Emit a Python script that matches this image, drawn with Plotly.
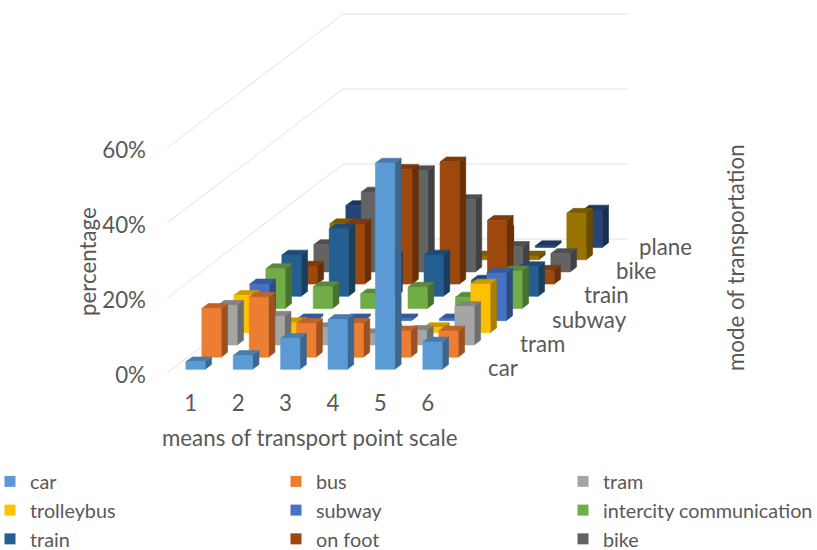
import plotly.graph_objects as go

# Point scale on the floor axis
points = ["1", "2", "3", "4", "5", "6"]

# Share of respondents (%) for each mode at each scale point
car = [2.0, 3.7, 8.3, 13.3, 55.0, 7.3]
bus = [13.0, 16.0, 9.0, 9.0, 7.0, 7.0]
tram = [10.6, 7.7, 4.6, 3.0, 3.9, 10.3]
trolleybus = [10.0, 2.7, 1.0, 1.0, 1.4, 13.0]
subway = [9.8, 0.5, 0.5, 0.5, 0.5, 12.7]
intercity = [10.6, 5.8, 3.9, 5.7, 3.0, 10.0]
train = [11.0, 18.0, 10.5, 11.0, 4.3, 7.9]
on_foot = [4.8, 16.0, 30.6, 32.6, 17.0, 3.7]
bike = [7.3, 21.3, 27.0, 19.3, 6.8, 4.9]
other = [9.6, 1.0, 1.0, 1.0, 1.0, 12.4]
plane = [11.2, 0.5, 0.5, 4.5, 0.5, 10.0]

series_names = ["car", "bus", "tram", "trolleybus", "subway", "intercity communication",
                "train", "on foot", "bike", "other", "plane"]
series_values = [car, bus, tram, trolleybus, subway, intercity, train, on_foot, bike, other, plane]
series_colors = ["#5B9BD5", "#ED7D31", "#A5A5A5", "#FFC000", "#4472C4", "#70AD47",
                 "#255E91", "#9E480E", "#636363", "#997300", "#264478"]

value_ticks = [0, 20, 40, 60]
depth_ticks = {"car": 0, "tram": 2, "subway": 4, "train": 6, "bike": 8, "plane": 10}

TEXT = "#595959"
FONT = "Lato, Carlito, Calibri, sans-serif"
GRID = "#E2E2E2"
AXIS_SIZE = 22.3

# Oblique projection: one depth slot shifts right (category units) and up (percent units)
PLOT_L, PLOT_W, PLOT_H = 167, 473, 388
PX_PER_CAT = 47.4
PX_PER_PCT = 3.75
SLOT_X = 16.0 / PX_PER_CAT
SLOT_Y = 12.18 / PX_PER_PCT
BAR_W = 0.407
BAR_GAP = (1 - BAR_W) / 2
BAR_D = 0.4
DEPTH_GAP = (1 - BAR_D) / 2
N = len(series_names)


def project(cat, depth, value):
    return cat + depth * SLOT_X, value + depth * SLOT_Y


def shade(hex_color, k):
    r, g, b = (int(hex_color[i:i + 2], 16) for i in (1, 3, 5))
    return f"rgb({r * k:.0f},{g * k:.0f},{b * k:.0f})"


def paper_x(px):
    return (px - PLOT_L) / PLOT_W


def paper_y(px):
    return (PLOT_H - px) / PLOT_H


def polygon_trace(polys, color, group, legend):
    xs, ys = [], []
    for poly in polys:
        xs += [p[0] for p in poly] + [poly[0][0], None]
        ys += [p[1] for p in poly] + [poly[0][1], None]
    return go.Scatter(x=xs, y=ys, mode="lines", fill="toself", fillcolor=color,
                      line=dict(color=color, width=0.6), hoverinfo="skip",
                      showlegend=False, legendgroup=group, legend=legend)


fig = go.Figure()

# Side-wall and back-wall gridlines
for v in value_ticks:
    corner = project(0, N, v)
    end = project(len(points), N, v)
    start = project(0, 0, v)
    fig.add_trace(go.Scatter(x=[start[0], corner[0], end[0]], y=[start[1], corner[1], end[1]],
                             mode="lines", line=dict(color=GRID, width=1),
                             hoverinfo="skip", showlegend=False))

# Bars, painted from the back row forward
legend_ids = ["legend", "legend2", "legend3"]
for s in range(N - 1, -1, -1):
    name, values, color = series_names[s], series_values[s], series_colors[s]
    legend = legend_ids[s % 3] if s < 9 else "legend"
    d0, d1 = s + DEPTH_GAP, s + DEPTH_GAP + BAR_D
    fronts, tops, sides = [], [], []
    for c, v in enumerate(values):
        x0, x1 = c + BAR_GAP, c + BAR_GAP + BAR_W
        fronts.append([project(x0, d0, 0), project(x1, d0, 0), project(x1, d0, v), project(x0, d0, v)])
        tops.append([project(x0, d0, v), project(x1, d0, v), project(x1, d1, v), project(x0, d1, v)])
        sides.append([project(x1, d0, 0), project(x1, d1, 0), project(x1, d1, v), project(x1, d0, v)])
    fig.add_trace(polygon_trace(sides, shade(color, 0.66), name, legend))
    fig.add_trace(polygon_trace(tops, shade(color, 0.80), name, legend))
    fig.add_trace(polygon_trace(fronts, color, name, legend))

# Legend swatches, three columns of three rows
for s in range(9):
    fig.add_trace(go.Scatter(x=[None], y=[None], mode="markers", name=series_names[s],
                             marker=dict(symbol="square", size=11, color=series_colors[s]),
                             legendgroup=series_names[s], legend=legend_ids[s % 3]))

legend_style = dict(orientation="v", xref="paper", yref="paper", yanchor="top",
                    xanchor="left", y=paper_y(462), bgcolor="rgba(0,0,0,0)", borderwidth=0,
                    tracegroupgap=0, font=dict(family=FONT, size=19.8, color=TEXT),
                    itemwidth=30)

axis_font = dict(family=FONT, size=AXIS_SIZE, color=TEXT)
annotations = [
    dict(x=3, y=paper_y(437), xref="x", yref="paper", xanchor="center", yanchor="middle",
         text="means of transport point scale", showarrow=False, font=axis_font),
    dict(x=paper_x(87), y=paper_y(262), xref="paper", yref="paper", xanchor="center",
         yanchor="middle", text="percentage", showarrow=False, textangle=-90, font=axis_font),
    dict(x=paper_x(735), y=paper_y(258), xref="paper", yref="paper", xanchor="center",
         yanchor="middle", text="mode of transportation", showarrow=False, textangle=-90,
         font=axis_font),
]

# Depth axis labels sit beyond the right end of the floor
for label, s in depth_ticks.items():
    lx, ly = project(len(points), s + 0.5, 0)
    annotations.append(dict(x=lx, y=ly, xref="x", yref="y", text=label, showarrow=False,
                            xanchor="left", xshift=27 - (9 if label == "plane" else 0), yshift=-1,
                            font=axis_font))

fig.update_layout(
    width=817, height=550,
    margin=dict(l=PLOT_L, r=817 - PLOT_L - PLOT_W, t=0, b=550 - PLOT_H, autoexpand=False),
    paper_bgcolor="white", plot_bgcolor="rgba(0,0,0,0)",
    showlegend=True,
    font=dict(family=FONT, color=TEXT, size=AXIS_SIZE),
    xaxis=dict(range=[0, PLOT_W / PX_PER_CAT], tickmode="array",
               tickvals=[i + 0.5 for i in range(len(points))], ticktext=points,
               showgrid=False, zeroline=False, showline=False, ticklen=0, ticklabelstandoff=0,
               tickfont=axis_font),
    yaxis=dict(range=[-15 / PX_PER_PCT, 373 / PX_PER_PCT], tickmode="array",
               tickvals=value_ticks, ticktext=[f"{v}%" for v in value_ticks],
               showgrid=False, zeroline=False, showline=False, ticklen=0, ticklabelstandoff=20,
               ticklabelshift=2, tickfont=axis_font),
    legend=dict(legend_style, x=paper_x(-10)),
    legend2=dict(legend_style, x=paper_x(276)),
    legend3=dict(legend_style, x=paper_x(563)),
    annotations=annotations,
)

fig.write_html("out.html", config=dict(displayModeBar=False))
